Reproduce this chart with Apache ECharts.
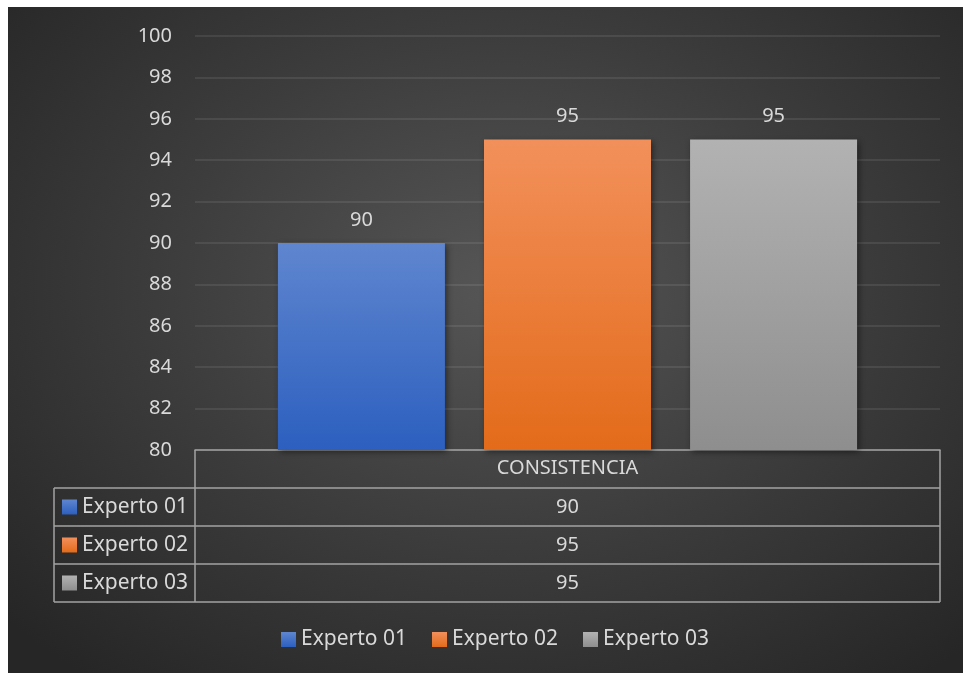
<!DOCTYPE html>
<html><head><meta charset="utf-8">
<script src="https://cdn.jsdelivr.net/npm/echarts@6/dist/echarts.min.js"></script>
<style>
html,body{margin:0;padding:0;background:#fff;}
#bg{position:absolute;left:8px;top:7px;width:955px;height:666px;background:radial-gradient(ellipse 70% 75% at 52% 42%, #565656 0%, #3d3d3d 50%, #262626 100%);}
#chart{position:absolute;left:0;top:0;width:963px;height:673px;}
</style></head><body><div id="bg"></div><div id="chart"></div>
<script>
const categories = ['CONSISTENCIA'];
const seriesNames = ['Experto 01', 'Experto 02', 'Experto 03'];
const expert01 = [90];
const expert02 = [95];
const expert03 = [95];
const yMin = 80, yMax = 100, yInterval = 2;

const seriesValues = [expert01, expert02, expert03];
const colorStops = [
  ['#5f86cf', '#2c5fbf'],
  ['#f2905b', '#e36b1a'],
  ['#b2b2b2', '#8e8e8e']
];
function grad(c) {
  return new echarts.graphic.LinearGradient(0, 0, 0, 1, [{offset: 0, color: c[0]}, {offset: 1, color: c[1]}]);
}

const W = 963;
const gridLeft = 195, gridRight = 23, gridTop = 36, gridBottomY = 450;
const tableLeft = 54, rowH = 38;
const lineColor = '#a3a3a3';
const textColor = '#d9d9d9';
const font = '"Noto Sans", sans-serif';
const gridRightX = W - gridRight;
const centerX = (gridLeft + gridRightX) / 2;

const graphics = [];
const nRows = seriesNames.length;
const tableBottom = gridBottomY + rowH * (nRows + 1);
for (let i = 1; i <= nRows + 1; i++) {
  const y = gridBottomY + rowH * i;
  graphics.push({type: 'line', shape: {x1: tableLeft, y1: y, x2: gridRightX, y2: y}, style: {stroke: lineColor, lineWidth: 1.5}});
}
graphics.push({type: 'line', shape: {x1: tableLeft, y1: gridBottomY + rowH, x2: tableLeft, y2: tableBottom}, style: {stroke: lineColor, lineWidth: 1.5}});
graphics.push({type: 'line', shape: {x1: gridLeft, y1: gridBottomY, x2: gridLeft, y2: tableBottom}, style: {stroke: lineColor, lineWidth: 1.5}});
graphics.push({type: 'line', shape: {x1: gridRightX, y1: gridBottomY, x2: gridRightX, y2: tableBottom}, style: {stroke: lineColor, lineWidth: 1.5}});
seriesNames.forEach((name, i) => {
  const yc = gridBottomY + rowH * (i + 1) + rowH / 2;
  graphics.push({type: 'rect', shape: {x: 62, y: yc - 7.5, width: 15, height: 15}, style: {fill: grad(colorStops[i])}});
  graphics.push({type: 'text', x: 82, y: yc, style: {text: name, fill: textColor, font: '21px ' + font, verticalAlign: 'middle'}});
  graphics.push({type: 'text', x: centerX, y: yc, style: {text: String(seriesValues[i][0]), fill: textColor, font: '20px ' + font, align: 'center', verticalAlign: 'middle'}});
});

const chart = echarts.init(document.getElementById('chart'), null, {renderer: 'canvas'});
chart.setOption({
  backgroundColor: 'transparent',
  animation: false,
  textStyle: {fontFamily: font},
  grid: {left: gridLeft, right: gridRight, top: gridTop, bottom: 673 - gridBottomY, containLabel: false},
  legend: {
    left: 276, top: 624, itemWidth: 15, itemHeight: 15, itemGap: 25, icon: 'rect',
    textStyle: {color: textColor, fontSize: 21, fontFamily: font},
    data: seriesNames
  },
  xAxis: {
    type: 'category', data: categories,
    axisLine: {show: true, lineStyle: {color: lineColor, width: 1.5}},
    axisTick: {show: false},
    axisLabel: {color: textColor, fontSize: 20, margin: 8}
  },
  yAxis: {
    type: 'value', min: yMin, max: yMax, interval: yInterval,
    axisLine: {show: false}, axisTick: {show: false},
    axisLabel: {color: textColor, fontSize: 20, margin: 23},
    splitLine: {lineStyle: {color: 'rgba(255,255,255,0.11)', width: 1.5}}
  },
  series: seriesNames.map((name, i) => ({
    name: name, type: 'bar', data: seriesValues[i],
    barWidth: 167, barGap: '23.4%',
    itemStyle: {color: grad(colorStops[i]), shadowBlur: 6, shadowColor: 'rgba(0,0,0,0.45)', shadowOffsetX: 2, shadowOffsetY: 2},
    label: {show: true, position: 'top', distance: 13, color: textColor, fontSize: 20}
  })),
  graphic: graphics
});
</script></body></html>
